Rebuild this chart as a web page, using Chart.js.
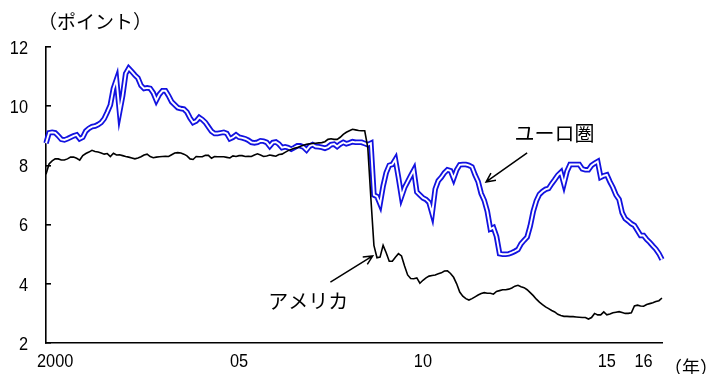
<!DOCTYPE html>
<html>
<head>
<meta charset="utf-8">
<script src="https://cdn.jsdelivr.net/npm/chart.js@4/dist/chart.umd.min.js"></script>
<style>
  html, body { margin: 0; padding: 0; background: #ffffff; }
  #wrap { width: 711px; height: 374px; }
</style>
</head>
<body>
<div id="wrap"><canvas id="chart" width="711" height="374"></canvas></div>
<script>
// Monthly series, first month 1999-10
const startYear = 1999;
const startMonth = 10;

// ユーロ圏 (points)
const euroArea = [
  8.75, 9.10, 9.12, 9.10, 9.00, 8.88, 8.86, 8.90, 8.95, 9.00,
  9.03, 8.90, 8.95, 9.16, 9.25, 9.31, 9.33, 9.38, 9.45, 9.58,
  9.80, 10.04, 10.60, 10.90, 9.80, 10.35, 11.10, 11.28, 11.17, 11.05,
  10.95, 10.70, 10.60, 10.62, 10.60, 10.45, 10.20, 10.40, 10.52, 10.52,
  10.35, 10.15, 10.05, 9.95, 9.92, 9.90, 9.80, 9.60, 9.45, 9.50,
  9.62, 9.55, 9.45, 9.30, 9.15, 9.08, 9.08, 9.10, 9.12, 9.08,
  8.90, 8.95, 9.03, 8.95, 8.93, 8.90, 8.85, 8.78, 8.76, 8.78,
  8.83, 8.82, 8.78, 8.65, 8.77, 8.79, 8.72, 8.60, 8.63, 8.60,
  8.55, 8.60, 8.66, 8.66, 8.62, 8.52, 8.65, 8.70, 8.64, 8.63,
  8.61, 8.58, 8.62, 8.70, 8.72, 8.64, 8.72, 8.78, 8.73, 8.76,
  8.80, 8.78, 8.78, 8.78, 8.74, 8.70, 8.75, 7.00, 6.95, 6.70,
  7.30, 7.75, 8.00, 8.03, 8.20, 7.60, 6.95, 7.25, 7.45, 7.65,
  7.84, 7.10, 7.00, 6.90, 6.85, 6.75, 6.38, 7.20, 7.48, 7.60,
  7.75, 7.85, 7.82, 7.56, 7.85, 8.02, 8.03, 8.03, 8.00, 7.95,
  7.68, 7.45, 7.05, 6.82, 6.45, 5.85, 5.90, 5.60, 5.02, 5.00,
  5.00, 5.01, 5.05, 5.10, 5.16, 5.35, 5.47, 5.58, 5.95, 6.45,
  6.80, 7.02, 7.12, 7.19, 7.22, 7.38, 7.52, 7.67, 7.77, 7.38,
  7.80, 8.03, 8.03, 8.03, 8.03, 7.88, 7.85, 7.85, 8.00, 8.07,
  8.13, 7.60, 7.65, 7.68, 7.45, 7.25, 7.00, 6.85, 6.40, 6.20,
  6.12, 6.03, 5.97, 5.80, 5.63, 5.63, 5.50, 5.40, 5.28, 5.17,
  5.02, 4.82
];

// アメリカ (points)
const usa = [
  7.70, 8.05, 8.15, 8.22, 8.22, 8.18, 8.18, 8.22, 8.28, 8.28,
  8.24, 8.18, 8.33, 8.40, 8.45, 8.51, 8.47, 8.45, 8.42, 8.38,
  8.40, 8.30, 8.41, 8.35, 8.36, 8.33, 8.30, 8.28, 8.25, 8.22,
  8.25, 8.29, 8.35, 8.38, 8.30, 8.26, 8.28, 8.29, 8.30, 8.31,
  8.30, 8.36, 8.42, 8.43, 8.42, 8.38, 8.32, 8.22, 8.20, 8.30,
  8.29, 8.29, 8.34, 8.34, 8.24, 8.30, 8.29, 8.29, 8.29, 8.27,
  8.25, 8.32, 8.30, 8.33, 8.33, 8.30, 8.31, 8.30, 8.35, 8.39,
  8.35, 8.30, 8.32, 8.35, 8.33, 8.31, 8.37, 8.38, 8.44, 8.50,
  8.54, 8.58, 8.60, 8.65, 8.68, 8.71, 8.73, 8.74, 8.75, 8.76,
  8.77, 8.80, 8.88, 8.90, 8.88, 8.88, 8.95, 9.05, 9.12, 9.17,
  9.22, 9.20, 9.18, 9.17, 9.17, 8.60, 6.90, 5.30, 4.88, 4.90,
  5.30, 5.05, 4.76, 4.76, 4.90, 5.02, 4.94, 4.60, 4.30, 4.18,
  4.17, 4.20, 4.02, 4.12, 4.20, 4.26, 4.28, 4.30, 4.34, 4.37,
  4.43, 4.44, 4.35, 4.22, 4.00, 3.72, 3.58, 3.50, 3.45, 3.50,
  3.56, 3.62, 3.67, 3.70, 3.68, 3.68, 3.65, 3.74, 3.77, 3.80,
  3.80, 3.82, 3.86, 3.92, 3.95, 3.90, 3.87, 3.80, 3.70, 3.60,
  3.48, 3.38, 3.30, 3.22, 3.16, 3.10, 3.05, 2.97, 2.93, 2.90,
  2.90, 2.89, 2.89, 2.88, 2.87, 2.86, 2.86, 2.81, 2.86, 3.00,
  2.95, 2.95, 3.05, 2.95, 2.98, 3.02, 3.04, 3.06, 3.03, 3.00,
  3.00, 3.02, 3.25, 3.28, 3.25, 3.24, 3.30, 3.33, 3.36, 3.40,
  3.43, 3.52
];

// Axis ticks
const yTicks = [2, 4, 6, 8, 10, 12];
const xTickMonths = ['2000-01', '2005-01', '2010-01', '2015-01', '2016-01'];
const xTickLabels = ['2000', '05', '10', '15', '16'];

// Texts
const unitLabel = '（ポイント）';
const yearLabel = '（年）';
const euroName = 'ユーロ圏';
const usaName = 'アメリカ';

// Month categories
const months = euroArea.map((_, i) => {
  const t = (startYear * 12 + (startMonth - 1)) + i;
  const y = Math.floor(t / 12);
  const m = (t % 12) + 1;
  return y + '-' + String(m).padStart(2, '0');
});

// Callouts, in data coordinates (month index, points)
const callouts = [
  { text: euroName, label: [165.9, 9.09], from: [157.0, 8.42], to: [143.6, 7.44] },
  { text: usaName,  label: [85.6, 3.39],  from: [92.8, 4.06],  to: [106.6, 4.94] }
];

const BLUE = '#1212e0';
const NUM_FONT = '19px "Liberation Sans", Arial, sans-serif';
const NUM_SQUEEZE = 0.86;
const JP_FONT = '"Noto Sans CJK JP", "Noto Sans", sans-serif';

// Draws a narrow numeral label
function narrowText(ctx, text, x, y, align) {
  ctx.save();
  ctx.translate(x, y);
  ctx.scale(NUM_SQUEEZE, 1);
  ctx.textAlign = align;
  ctx.fillText(text, 0, 0);
  ctx.restore();
}

const textPlugin = {
  id: 'texts',
  afterDraw(chart) {
    const { ctx, scales: { x, y } } = chart;
    ctx.save();
    ctx.fillStyle = '#000';
    ctx.strokeStyle = '#000';
    ctx.lineWidth = 1.5;

    // tick labels
    ctx.font = NUM_FONT;
    ctx.textBaseline = 'alphabetic';
    yTicks.forEach(v => {
      narrowText(ctx, String(v), 28, y.getPixelForValue(v) + 6.8, 'right');
    });
    xTickMonths.forEach((mo, k) => {
      const idx = months.indexOf(mo);
      narrowText(ctx, xTickLabels[k], x.getPixelForValue(idx), 366.5, 'center');
    });

    // unit and axis captions
    ctx.textBaseline = 'middle';
    ctx.textAlign = 'center';
    ctx.font = '19px ' + JP_FONT;
    ctx.fillText(unitLabel, 95, 22);
    ctx.font = '18px ' + JP_FONT;
    ctx.fillText(yearLabel, 691, 367);

    // series callouts with arrows
    ctx.font = '20px ' + JP_FONT;
    callouts.forEach(c => {
      const lx = x.getPixelForValue(c.label[0]);
      const ly = y.getPixelForValue(c.label[1]);
      ctx.fillText(c.text, lx, ly);

      const x1 = x.getPixelForValue(c.from[0]), y1 = y.getPixelForValue(c.from[1]);
      const x2 = x.getPixelForValue(c.to[0]),   y2 = y.getPixelForValue(c.to[1]);
      ctx.beginPath();
      ctx.moveTo(x1, y1);
      ctx.lineTo(x2, y2);
      const a = Math.atan2(y2 - y1, x2 - x1);
      const head = 10, spread = 0.45;
      ctx.moveTo(x2 - head * Math.cos(a - spread), y2 - head * Math.sin(a - spread));
      ctx.lineTo(x2, y2);
      ctx.lineTo(x2 - head * Math.cos(a + spread), y2 - head * Math.sin(a + spread));
      ctx.stroke();
    });
    ctx.restore();
  }
};

new Chart(document.getElementById('chart'), {
  type: 'line',
  data: {
    labels: months,
    datasets: [
      { label: euroName, data: euroArea, borderColor: BLUE, borderWidth: 5.5, pointRadius: 0, tension: 0, order: 2 },
      { label: euroName + ' inner', data: euroArea, borderColor: '#ffffff', borderWidth: 1.9, pointRadius: 0, tension: 0, order: 1 },
      { label: usaName, data: usa, borderColor: '#000000', borderWidth: 1.6, pointRadius: 0, tension: 0, order: 0 }
    ]
  },
  options: {
    responsive: false,
    animation: false,
    devicePixelRatio: 1,
    layout: { padding: { top: 47, right: 49, left: 0, bottom: 0 } },
    plugins: { legend: { display: false }, tooltip: { enabled: false } },
    scales: {
      x: {
        type: 'category',
        offset: false,
        grid: { display: false },
        border: { display: true, color: '#000', width: 1.6 },
        ticks: { display: false },
        afterFit: s => { s.height = 31; }
      },
      y: {
        min: yTicks[0],
        max: yTicks[yTicks.length - 1],
        afterBuildTicks: s => { s.ticks = yTicks.map(v => ({ value: v })); },
        grid: { display: true, drawOnChartArea: false, drawTicks: true, tickLength: -5, color: '#000', lineWidth: 1.6 },
        border: { display: true, color: '#000', width: 1.6 },
        ticks: { display: false },
        afterFit: s => { s.width = 46; }
      }
    }
  },
  plugins: [textPlugin]
});
</script>
</body>
</html>
